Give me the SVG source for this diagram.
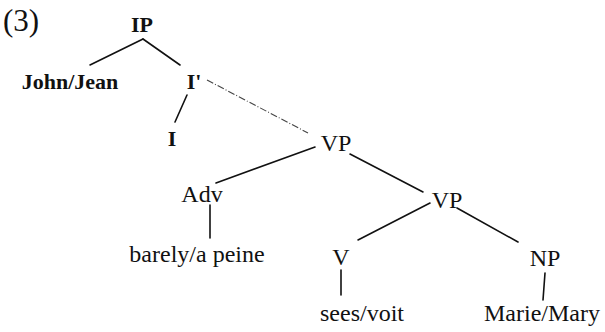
<svg xmlns="http://www.w3.org/2000/svg" width="605" height="332" viewBox="0 0 605 332">
<style>
text{font-family:"Liberation Serif","Times New Roman",serif;font-size:24px;fill:#111;text-anchor:middle}
.b{font-weight:bold;font-size:22px}
.e{stroke:#111;stroke-width:1.6;fill:none;stroke-linecap:round}
.d{stroke:#444;stroke-width:1.1;stroke-dasharray:7 2 1 2;fill:none}
</style>
<rect width="605" height="332" fill="#fff"/>
<text x="3" y="31" style="font-size:31px;text-anchor:start">(3)</text>
<g id="connectors">
<line class="e" x1="143" y1="39" x2="90" y2="65"/>
<line class="e" x1="143" y1="39" x2="180" y2="65"/>
<line class="e" x1="187" y1="95" x2="175" y2="122"/>
<line class="d" x1="207" y1="80" x2="308" y2="133"/>
<line class="e" x1="315" y1="147" x2="216" y2="183"/>
<line class="e" x1="350" y1="154" x2="423" y2="192"/>
<line class="e" x1="430" y1="203" x2="358" y2="240"/>
<line class="e" x1="457" y1="208" x2="518" y2="242"/>
<line class="e" x1="210" y1="205" x2="210" y2="238"/>
<line class="e" x1="341" y1="270" x2="341" y2="295"/>
<line class="e" x1="545" y1="273" x2="543" y2="300"/>
</g>
<g id="IP"><text class="b" x="142" y="32">IP</text></g>
<g id="John"><text class="b" x="70" y="89">John/Jean</text></g>
<g id="Ibar"><text class="b" x="194" y="89">I'</text></g>
<g id="I"><text class="b" x="172" y="146">I</text></g>
<g id="VP1"><text x="336" y="151">VP</text></g>
<g id="Adv"><text x="202" y="202">Adv</text></g>
<g id="VP2"><text x="447" y="208">VP</text></g>
<g id="barely"><text x="197" y="262">barely/a peine</text></g>
<g id="V"><text x="341" y="265">V</text></g>
<g id="NP"><text x="545" y="266">NP</text></g>
<g id="sees"><text x="362" y="321">sees/voit</text></g>
<g id="Marie"><text x="542" y="321">Marie/Mary</text></g>
</svg>
